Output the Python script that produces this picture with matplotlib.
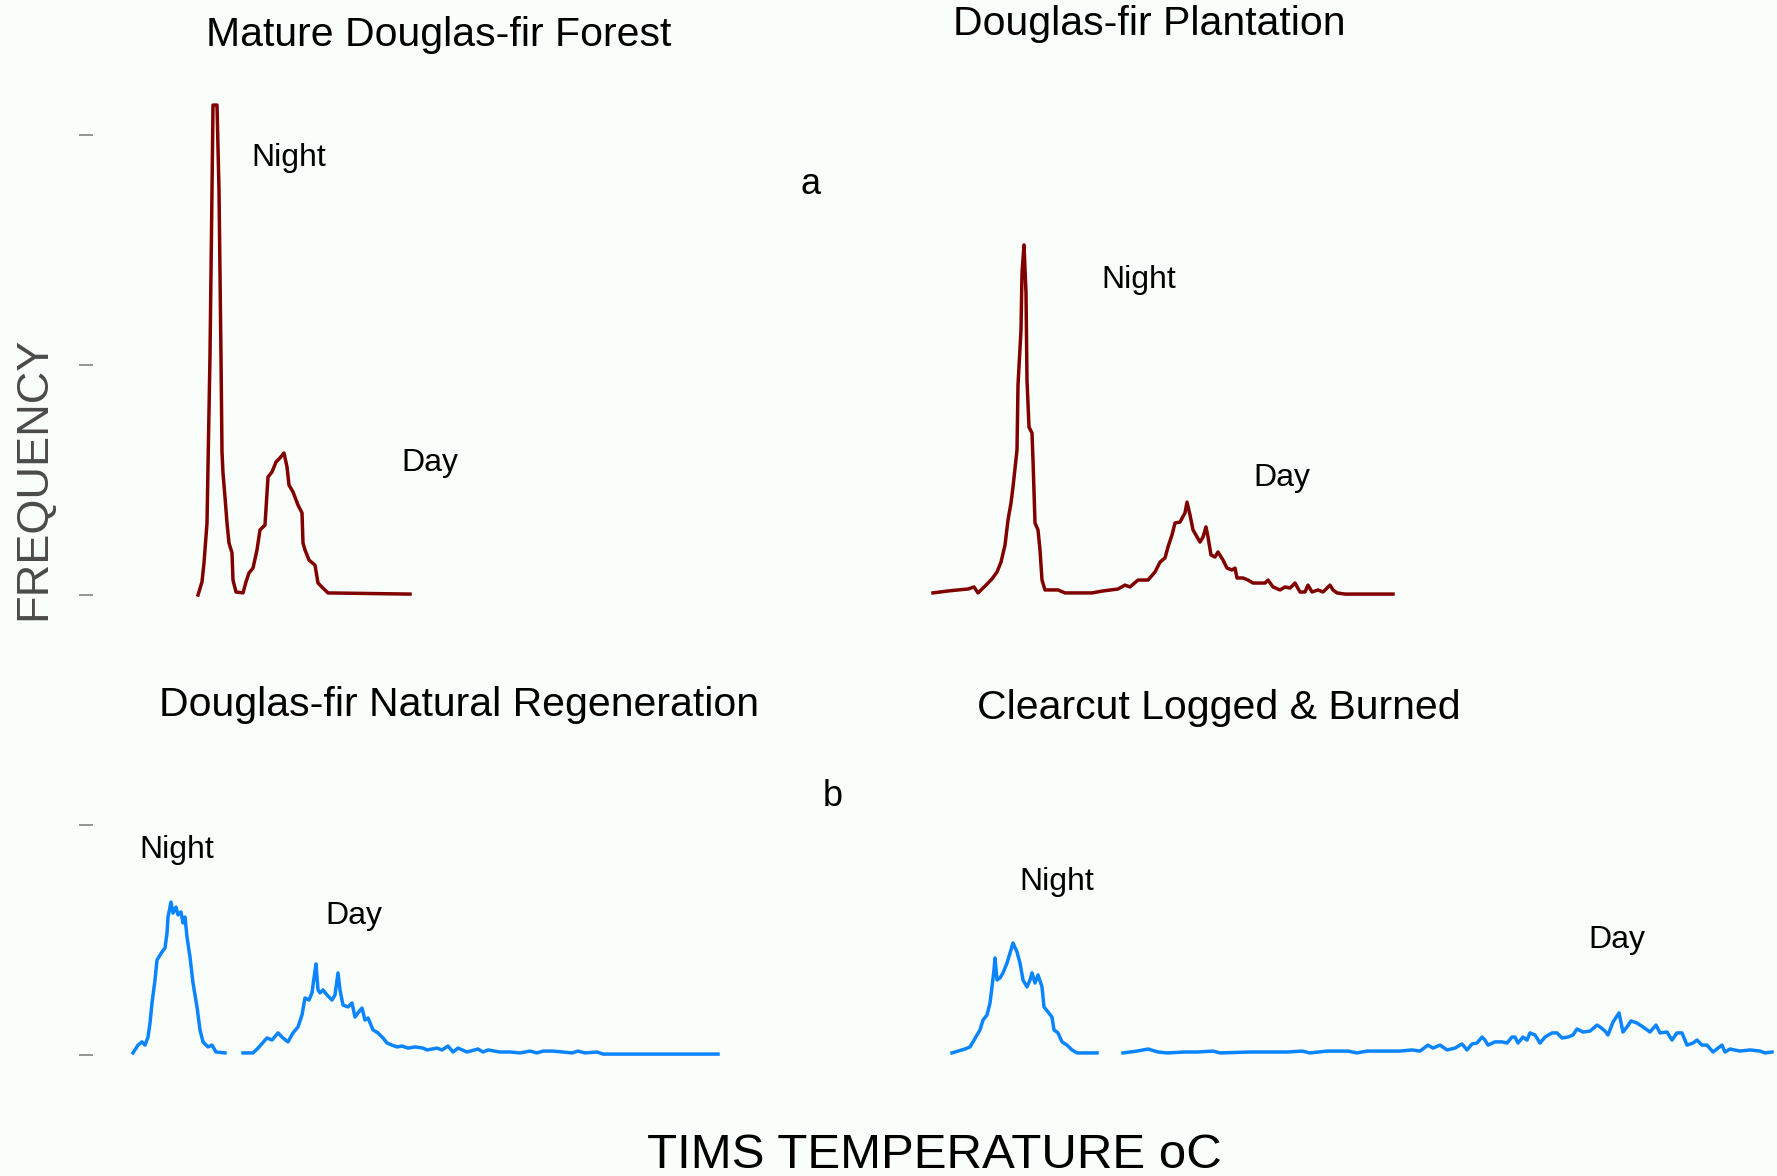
import matplotlib
matplotlib.use("Agg")
import matplotlib.pyplot as plt

plt.rcParams['font.family'] = ['Liberation Sans', 'DejaVu Sans']

# ---------------- data (temperature, frequency) ----------------
# a) Mature Douglas-fir Forest
mature_t = [5.0, 5.4, 5.6, 5.9, 6.0, 6.2, 6.4, 6.5, 6.9, 7.1, 7.3, 7.4, 7.5, 7.7, 7.9, 8.1, 8.4, 8.5,
            8.8, 9.5, 9.8, 10.1, 10.5, 10.9, 11.2, 11.7, 12.0, 12.4, 12.8, 13.2, 13.6, 13.9, 14.1, 14.5,
            15.0, 15.4, 15.5, 15.7, 16.1, 16.7, 17.0, 17.5, 18.0, 26.2]
mature_f = [0, 5.7, 13.9, 31.3, 55.7, 104.3, 176.1, 213.0, 213.0, 176.1, 103.5, 62.2, 53.0, 42.6, 31.3,
            22.6, 18.3, 6.5, 1.3, 0.9, 5.7, 9.6, 11.7, 19.6, 28.3, 30.4, 51.3, 53.5, 57.8, 59.6, 61.7,
            55.7, 47.8, 44.8, 39.1, 35.7, 22.6, 19.6, 15.2, 13.0, 5.2, 3.0, 0.9, 0.4]

# a) Douglas-fir Plantation
plant_t = [5.0, 6.4, 7.5, 8.5, 9.1, 9.5, 10.0, 10.5, 10.9, 11.4, 11.8, 12.2, 12.5, 12.8, 13.0, 13.4,
           13.5, 13.8, 13.9, 14.1, 14.3, 14.4, 14.6, 14.9, 15.0, 15.2, 15.5, 15.7, 15.9, 16.2, 17.5,
           18.2, 20.9, 21.9, 23.5, 24.2, 24.7, 25.5, 26.5, 27.2, 27.7, 28.2, 28.5, 28.9, 29.2, 29.7,
           30.2, 30.4, 30.7, 31.0, 31.7, 32.0, 32.3, 32.5, 32.8, 33.2, 33.5, 34.0, 34.4, 34.9, 35.2,
           35.4, 36.0, 36.5, 37.0, 38.2, 38.5, 39.0, 39.7, 40.2, 40.7, 41.2, 41.7, 42.2, 42.5, 42.9,
           43.5, 44.0, 44.7, 45.0, 45.4, 46.2, 51.0]
plant_f = [0.9, 1.7, 2.2, 2.6, 3.5, 0.9, 3.0, 5.2, 7.0, 10.0, 14.3, 21.7, 32.6, 40.0, 47.0, 63.0,
           91.3, 115.2, 140.0, 152.2, 131.3, 93.5, 73.0, 70.4, 58.7, 31.3, 28.3, 19.6, 6.5, 2.2, 2.2,
           0.9, 0.9, 1.7, 2.6, 4.3, 3.5, 6.5, 6.5, 10.0, 14.3, 16.1, 20.9, 26.1, 31.3, 31.7,
           35.7, 40.4, 34.8, 28.3, 23.0, 25.2, 29.6, 25.2, 17.4, 16.5, 18.7, 15.2, 11.7, 10.9, 11.7,
           7.4, 7.4, 6.5, 5.2, 5.2, 6.5, 3.5, 2.2, 3.5, 3.0, 5.2, 1.3, 1.3, 4.3, 1.3,
           2.2, 1.3, 4.3, 2.2, 0.9, 0.4, 0.4]

# b) Douglas-fir Natural Regeneration
regen_night_t = [5.0, 5.5, 5.9, 6.2, 6.5, 6.7, 6.9, 7.2, 7.4, 7.9, 8.2, 8.4, 8.5, 8.8, 9.0, 9.3, 9.5,
                 9.8, 10.0, 10.2, 10.4, 10.7, 11.0, 11.4, 11.7, 12.0, 12.5, 12.9, 13.3, 14.2]
regen_night_f = [0.9, 4.3, 5.7, 4.3, 7.8, 13.9, 22.6, 32.6, 41.3, 44.8, 46.5, 53.0, 60.0, 66.5, 61.7,
                 64.3, 60.9, 62.2, 57.4, 60.0, 51.3, 42.6, 31.3, 20.9, 10.9, 5.7, 3.5, 4.3, 1.3, 0.9]
regen_day_t = [16.0, 17.0, 17.5, 18.4, 18.9, 19.5, 20.0, 20.5, 21.0, 21.5, 21.9, 22.2, 22.6, 22.9,
               23.1, 23.3, 23.5, 23.7, 24.0, 24.4, 24.9, 25.2, 25.5, 25.7, 26.0, 26.5, 26.9, 27.2,
               27.5, 27.9, 28.2, 28.5, 29.0, 29.5, 30.0, 30.4, 30.9, 31.4, 31.9, 32.5, 33.2, 34.0,
               34.4, 35.4, 35.9, 36.5, 37.0, 37.5, 38.4, 39.5, 40.0, 40.5, 41.7, 42.7, 43.7, 44.7,
               45.4, 46.0, 47.0, 48.0, 48.9, 49.5, 50.2, 51.4, 52.0, 63.5]
regen_day_f = [0.9, 0.9, 3.0, 7.4, 6.5, 9.6, 7.4, 5.7, 9.6, 12.2, 17.4, 24.8, 23.9, 27.0,
               33.5, 39.6, 28.3, 27.0, 28.3, 26.1, 23.9, 26.1, 35.7, 28.3, 21.7, 20.9, 22.6, 16.5,
               18.3, 20.4, 15.2, 16.1, 10.9, 9.6, 7.4, 5.2, 4.3, 3.5, 3.9, 3.0, 3.5, 3.0,
               2.2, 3.0, 2.2, 3.9, 1.3, 3.0, 1.3, 2.6, 1.3, 2.2, 1.3, 1.3, 0.9, 1.7,
               0.9, 1.7, 1.7, 1.3, 0.9, 1.7, 0.9, 1.3, 0.4, 0.4]

# b) Clearcut Logged & Burned
clear_night_t = [5.0, 5.6, 6.3, 6.8, 7.1, 7.5, 7.8, 8.1, 8.5, 8.8, 9.0, 9.2, 9.3, 9.5, 9.8, 10.1,
                 10.5, 10.8, 11.1, 11.5, 11.8, 12.1, 12.5, 12.8, 13.0, 13.3, 13.6, 14.0, 14.2, 14.6,
                 15.0, 15.2, 15.6, 16.0, 16.5, 17.0, 17.5, 19.5]
clear_night_f = [0.9, 1.7, 2.6, 3.5, 5.7, 8.7, 10.9, 15.2, 17.4, 22.6, 29.6, 37.0, 42.2, 32.6, 33.5,
                 35.7, 40.0, 44.3, 48.7, 44.8, 40.0, 32.6, 29.6, 32.6, 35.7, 31.3, 34.8, 29.6, 20.9,
                 18.7, 16.5, 10.9, 9.6, 5.7, 4.3, 2.2, 0.9, 0.9]
clear_day_t = [22.1, 23.5, 24.6, 25.6, 26.5, 28.3, 29.5, 31.1, 31.8, 34.8, 36.6, 38.5, 40.0, 40.8,
               42.5, 43.1, 44.6, 45.5, 46.5, 48.1, 49.8, 51.0, 51.8, 52.6, 53.1, 53.8, 54.5, 55.3,
               56.0, 56.5, 57.0, 57.5, 58.0, 58.3, 58.6, 59.3, 60.0, 60.5, 61.0, 61.3, 61.6, 62.1,
               62.5, 62.8, 63.3, 63.8, 64.3, 65.0, 65.5, 66.0, 66.6, 67.1, 67.5, 68.1, 68.8, 69.5,
               69.8, 70.3, 70.6, 71.1, 71.7, 72.1, 72.5, 72.9, 73.5, 74.1, 74.8, 75.4, 75.8, 76.5,
               77.0, 77.5, 78.0, 78.5, 79.1, 79.5, 80.0, 80.5, 81.1, 81.6, 82.0, 82.3, 82.8, 83.8,
               84.8, 85.8, 86.3, 87.0]
clear_day_f = [0.9, 1.7, 2.6, 1.3, 0.9, 1.3, 1.3, 1.7, 0.9, 1.3, 1.3, 1.3, 1.7, 0.9,
               1.7, 1.7, 1.7, 0.9, 1.7, 1.7, 1.7, 2.2, 1.7, 4.3, 3.0, 4.3, 2.2, 3.0,
               4.8, 2.2, 4.8, 5.2, 7.8, 6.5, 4.3, 5.7, 5.7, 5.2, 7.8, 7.8, 5.2, 7.8,
               6.5, 9.6, 8.7, 5.2, 7.8, 9.6, 9.6, 7.4, 7.8, 8.7, 11.3, 10.0, 10.4, 13.0,
               12.2, 10.4, 8.7, 14.3, 18.3, 10.0, 12.2, 14.8, 13.9, 12.2, 10.0, 13.0, 9.6, 10.0,
               6.5, 9.6, 9.6, 4.3, 5.2, 6.5, 4.3, 4.3, 1.3, 3.0, 4.3, 1.3, 2.6, 1.7,
               2.2, 1.7, 0.9, 1.3]

titles = ["Mature Douglas-fir Forest", "Douglas-fir Plantation",
          "Douglas-fir Natural Regeneration", "Clearcut Logged & Burned"]
top_ticks = [0, 100, 200]
bottom_ticks = [0, 100]

# ---------------- layout ----------------
W, H = 1777, 1176
BG = '#fafefa'
RED = '#800000'
BLUE = '#0a84ff'
fig = plt.figure(figsize=(W / 100, H / 100), dpi=100, facecolor=BG)


def fx(px):
    return px / W


def fy(py):
    return 1 - py / H


def make_ax(left, right, top, bottom, xlim, ylim, ticks=None):
    ax = fig.add_axes([fx(left), fy(bottom), fx(right) - fx(left), fy(top) - fy(bottom)])
    ax.set_facecolor('none')
    for s in ax.spines.values():
        s.set_visible(False)
    ax.set_xlim(*xlim)
    ax.set_ylim(*ylim)
    ax.set_xticks([])
    if ticks is None:
        ax.set_yticks([])
    else:
        ax.set_yticks(ticks)
        ax.set_yticklabels([])
        ax.tick_params(axis='y', direction='out', length=10, width=1.1, color='#777777')
    return ax


top_ylim = (-10.87, 223.9)
bot_ylim = (-10.87, 110.87)

ax_tl = make_ax(93, 700, 80, 620, (-5.5, 55.2), top_ylim, top_ticks)
ax_tr = make_ax(900, 1777, 80, 620, (1.7, 89.4), top_ylim)
ax_bl = make_ax(93, 760, 800, 1080, (1.0, 67.7), bot_ylim, bottom_ticks)
ax_br = make_ax(900, 1777, 800, 1080, (-0.2, 87.5), bot_ylim)

lw = 2.5
ax_tl.plot(mature_t, mature_f, color=RED, lw=lw, clip_on=False)
ax_tr.plot(plant_t, plant_f, color=RED, lw=lw, clip_on=False)
ax_bl.plot(regen_night_t, regen_night_f, color=BLUE, lw=lw, clip_on=False)
ax_bl.plot(regen_day_t, regen_day_f, color=BLUE, lw=lw, clip_on=False)
ax_br.plot(clear_night_t, clear_night_f, color=BLUE, lw=lw, clip_on=False)
ax_br.plot(clear_day_t, clear_day_f, color=BLUE, lw=lw, clip_on=False)

# ---------------- text ----------------
def txt(x, y, s, size, **kw):
    fig.text(fx(x), fy(y + 3), s, fontsize=size, ha='center', va='center', **kw)


ts = 29.5
txt(439, 32, titles[0], ts)
txt(1149, 21, titles[1], ts)
txt(459, 702, titles[2], ts)
txt(1219, 705, titles[3], ts)
txt(811, 181, "a", 26)
txt(833, 793, "b", 26)

lab = 23
txt(289, 155, "Night", lab)
txt(430, 460, "Day", lab)
txt(1139, 277, "Night", lab)
txt(1282, 475, "Day", lab)
txt(177, 847, "Night", lab)
txt(354, 913, "Day", lab)
txt(1057, 879, "Night", lab)
txt(1617, 937, "Day", lab)

txt(934, 1153, "TIMS TEMPERATURE oC", 35.5)
txt(34, 475, "FREQUENCY", 32.5, rotation=90, color='#4a4a4a')

fig.savefig("out.png", dpi=100, facecolor=BG)
